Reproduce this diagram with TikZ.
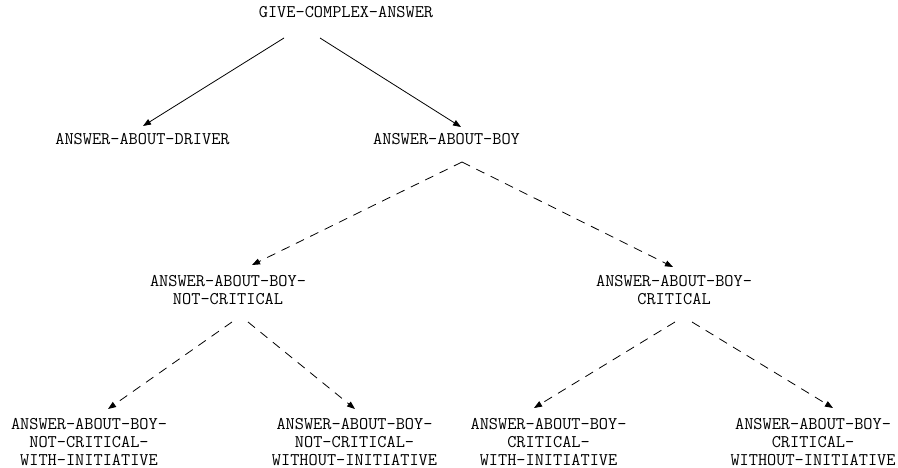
\documentclass[tikz,border=0pt]{standalone}
\usetikzlibrary{arrows.meta}
\begin{document}
\begin{tikzpicture}[x=1pt,y=-1pt,
  lbl/.style={font=\ttfamily\fontsize{17.8}{18}\selectfont, inner sep=0pt, align=center, anchor=center},
  edge/.style={line width=0.8pt, -{Triangle[length=8pt,width=6pt]}},
  dashedge/.style={edge, dash pattern=on 9pt off 7pt}]
\useasboundingbox (0,0) rectangle (898,468);

% goal hierarchy
\node[lbl] (give) at (346,12) {GIVE-COMPLEX-ANSWER};
\node[lbl] (driver) at (142.5,139) {ANSWER-ABOUT-DRIVER};
\node[lbl] (boy) at (446.5,139) {ANSWER-ABOUT-BOY};
\node[lbl] (nc) at (228,290) {ANSWER-ABOUT-BOY-\\NOT-CRITICAL};
\node[lbl] (cr) at (674,290) {ANSWER-ABOUT-BOY-\\CRITICAL};
\node[lbl] (ncw) at (89,442) {ANSWER-ABOUT-BOY-\\NOT-CRITICAL-\\WITH-INITIATIVE};
\node[lbl] (ncwo) at (354.5,442) {ANSWER-ABOUT-BOY-\\NOT-CRITICAL-\\WITHOUT-INITIATIVE};
\node[lbl] (crw) at (548.5,442) {ANSWER-ABOUT-BOY-\\CRITICAL-\\WITH-INITIATIVE};
\node[lbl] (crwo) at (813,442) {ANSWER-ABOUT-BOY-\\CRITICAL-\\WITHOUT-INITIATIVE};

% decomposition links
\draw[edge] ([shift={(-62,26)}]give.center) -- ([shift={(0.5,-13)}]driver.center);
\draw[edge] ([shift={(-26,26)}]give.center) -- ([shift={(14.5,-12)}]boy.center);

% specialisation links
\draw[dashedge] ([shift={(15.5,23)}]boy.center) -- ([shift={(24,-25)}]nc.center);
\draw[dashedge] ([shift={(15.5,23)}]boy.center) -- ([shift={(-1,-23)}]cr.center);
\draw[dashedge] ([shift={(4,32)}]nc.center) -- ([shift={(19,-33)}]ncw.center);
\draw[dashedge] ([shift={(20,32)}]nc.center) -- ([shift={(0.5,-33)}]ncwo.center);
\draw[dashedge] ([shift={(1,32)}]cr.center) -- ([shift={(-14.5,-34)}]crw.center);
\draw[dashedge] ([shift={(18,32)}]cr.center) -- ([shift={(20,-34)}]crwo.center);
\end{tikzpicture}
\end{document}
